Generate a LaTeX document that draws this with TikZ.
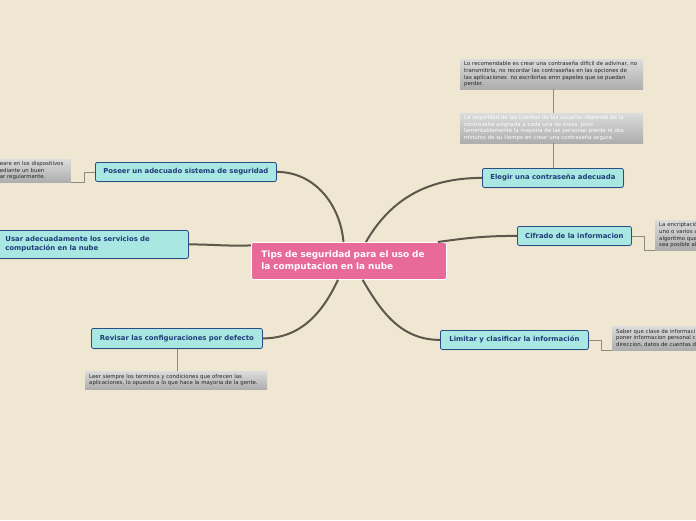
\documentclass[tikz,border=0pt]{standalone}
\usepackage{fontspec}
\setmainfont{DejaVu Sans}
\usetikzlibrary{positioning,shadows}
\definecolor{mapbg}{HTML}{EFE7D2}
\definecolor{mappink}{HTML}{E86A98}
\definecolor{mapcyan}{HTML}{A9E7E3}
\definecolor{mapblue}{HTML}{2C4C86}
\definecolor{mapink}{HTML}{1F3D78}
\definecolor{mapline}{HTML}{5B574A}
\definecolor{twiggrey}{HTML}{8E8B7E}

\begin{document}
\begin{tikzpicture}[x=1pt,y=-1pt,
  topic/.style={fill=mappink,draw=white,line width=.8pt,rounded corners=2pt,text=white,align=left,font=\fontsize{8.9}{12}\selectfont\bfseries,inner xsep=10pt,text width=175pt,minimum height=37pt},
  branch/.style={fill=mapcyan,draw=mapblue,line width=.8pt,rounded corners=2pt,text=mapink,font=\fontsize{6.9}{9}\selectfont\bfseries,minimum height=19pt,drop shadow={shadow xshift=.6pt,shadow yshift=-1pt,opacity=.25}},
  note/.style={top color=black!14,bottom color=black!32,text=black!85,align=left,font=\fontsize{5.4}{6.6}\selectfont,inner xsep=4pt,inner ysep=2pt},
  trunk/.style={draw=mapline,line width=2pt},
  twig/.style={draw=twiggrey,line width=.6pt}]
\path[use as bounding box,fill=mapbg] (0,0) rectangle (696,520);
\node[note,anchor=north west,text width=175pt,minimum height=30pt] (recom) at (460,59) {Lo recomendable es crear una contraseña dificil de adivinar, no\\transmitirla, no recordar las contraseñas en las opciones de\\las aplicaciones \ no escribirlas emn papeles que se puedan\\perder.};
\node[note,anchor=north west,text width=175pt,minimum height=30pt,text=white] (cuentas) at (460,113) {La seguridad de las cuentas de los usuarios depende de la\\contraseña asignada a cada una de estas, pero\\lamentablemente la mayoría de las personas pierde ni dos\\minutos de su tiempo en crear una contraseña segura.};
\node[note,anchor=north east,text width=69pt,inner xsep=2pt,minimum height=23pt] (escaneo) at (71,159) {eare en los dispositivos\\ediante un buen\\ar regularmente.};
\node[note,anchor=north west,text width=80pt,minimum height=30pt] (encrip) at (655,220) {La encriptación\\uno o varios a\\algoritmo que\\sea posible al};
\node[note,anchor=north west,text width=100pt,minimum height=24pt] (saber) at (612,326) {Saber que clase de informaci\\poner informacion personal c\\direccion, datos de cuentas d};
\node[note,anchor=north west,text width=174pt,minimum height=18pt] (leer) at (85,371) {Leer siempre los terminos y condiciones que ofrecen las\\aplicaciones, lo opuesto a lo que hace la mayoria de la gente.};
\node[topic,anchor=north west] (tips) at (251,242) {Tips de seguridad para el uso de\\la computacion en la nube};
\node[branch,anchor=north west,minimum width=181pt] (poseer) at (95,162) {Poseer un adecuado sistema de seguridad};
\node[branch,anchor=north west,minimum width=194pt,minimum height=28pt,align=left,text width=172pt,inner xsep=11pt] (usar) at (-6,230) {Usar adecuadamente los servicios de\\computación en la nube};
\node[branch,anchor=north west,minimum width=171pt,minimum height=20pt] (revisar) at (91,328) {Revisar las configuraciones por defecto};
\node[branch,anchor=north west,minimum width=141pt] (elegir) at (482,168) {Elegir una contraseña adecuada};
\node[branch,anchor=north west,minimum width=114pt] (cifrado) at (517,226) {Cifrado de la informacion};
\node[branch,anchor=north west,minimum width=148pt] (limitar) at (440,330) {Limitar y clasificar la información};
\draw[trunk] (tips.106) to[out=95,in=0] (poseer.east);
\draw[trunk] (tips.48) to[out=60,in=180] (elegir.west);
\draw[trunk] (tips.12) to[out=8,in=180] (cifrado.west);
\draw[trunk] (tips.306) to[out=-60,in=180] (limitar.west);
\draw[trunk] (tips.240) to[out=-115,in=0] (revisar.east);
\draw[trunk] (tips.171) to[out=182,in=0] (usar.east);
\draw[twig] (elegir.north) -- (elegir.north |- cuentas.south);
\draw[twig] (cuentas.north -| elegir.north) -- (elegir.north |- recom.south);
\draw[twig] (poseer.west) -- ++(-11,0) |- (escaneo.south east);
\draw[twig] (cifrado.east) -- ++(12,0) |- (encrip.south west);
\draw[twig] (limitar.east) -- ++(12,0) |- (saber.south west);
\draw[twig] (revisar.south) -- (revisar.south |- leer.north);
\end{tikzpicture}
\end{document}
